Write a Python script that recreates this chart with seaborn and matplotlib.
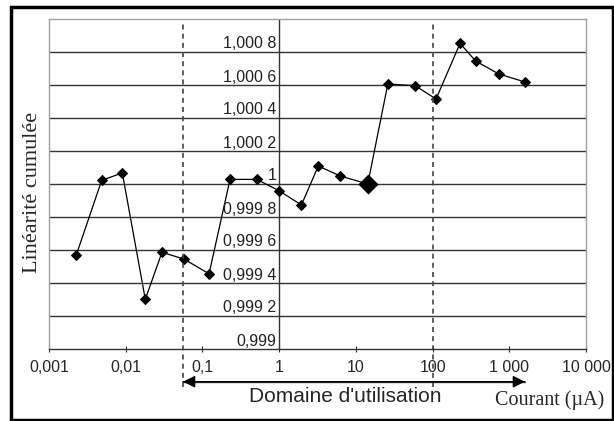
import matplotlib
matplotlib.use("Agg")
import matplotlib.pyplot as plt
import matplotlib.transforms as mtransforms
from matplotlib.patches import Rectangle
import seaborn as sns
import pandas as pd
import numpy as np

# Data
courant = [0.00227, 0.00486, 0.00903, 0.0180, 0.0297, 0.0575, 0.122, 0.229, 0.51, 0.99,
           1.95, 3.24, 6.28, 14.3, 26.1, 59.2, 111, 228, 365, 730, 1607]
linearite = [0.99957, 1.000022, 1.000067, 0.999301, 0.999586, 0.999545, 0.999456, 1.000028,
             1.000028, 0.99996, 0.999873, 1.000109, 1.000048, 1.000000, 1.000606, 1.000596,
             1.000515, 1.000852, 1.000745, 1.000667, 1.000618]
highlight_x = [14.3]
highlight_y = [1.000000]

x_ticks = [0.001, 0.01, 0.1, 1, 10, 100, 1000, 10000]
x_ticklabels = ["0,001", "0,01", "0,1", "1", "10", "100", "1 000", "10 000"]
y_ticks = [0.999, 0.9992, 0.9994, 0.9996, 0.9998, 1.0, 1.0002, 1.0004, 1.0006, 1.0008]
y_ticklabels = ["0,999", "0,999 2", "0,999 4", "0,999 6", "0,999 8", "1",
                "1,000 2", "1,000 4", "1,000 6", "1,000 8"]
domaine = [0.0559, 100]

sns.set_style("white")
plt.rcParams['font.family'] = ['Liberation Sans', 'DejaVu Sans']

fig = plt.figure(figsize=(6.14, 4.21), dpi=100)
ax = fig.add_axes([49/614, 1-349/421, (586-49)/614, (349-19)/421])

df = pd.DataFrame({"Courant": courant, "Linearite": linearite})
sns.lineplot(data=df, x="Courant", y="Linearite", ax=ax, color="black", lw=0.9,
             marker="D", markersize=5, markeredgecolor="black", estimator=None, sort=False)
sns.scatterplot(x=highlight_x, y=highlight_y, ax=ax, marker="D", s=90, color="black",
                edgecolor="black", zorder=5)

ax.set_xscale("log")
ax.set_xlim(0.001, 10000)
ax.set_ylim(0.999, 1.001)

ax.set_xticks(x_ticks)
ax.set_xticklabels(x_ticklabels, fontsize=11.5)
ax.minorticks_off()
ax.tick_params(axis="x", direction="inout", length=4, width=0.8, color="#333333", pad=6, bottom=True)
ax.set_yticks(y_ticks)
ax.set_yticklabels([])
ax.tick_params(axis="y", length=0)
ax.set_xlabel("")
ax.set_ylabel("")

for v in y_ticks[1:]:
    ax.axhline(v, color="#333333", lw=1, zorder=1)
ax.axvline(1, color="#333333", lw=1, zorder=1)

for side in ["left", "top", "right"]:
    ax.spines[side].set_color("#a0a0a0")
    ax.spines[side].set_linewidth(1)
ax.spines["bottom"].set_color("#333333")
ax.spines["bottom"].set_linewidth(1)

# y tick labels along the x=1 axis
off = mtransforms.offset_copy(ax.transData, fig=fig, x=-3, y=3.5, units="dots")
for v, lab in zip(y_ticks, y_ticklabels):
    ax.text(1, v, lab, transform=off, ha="right", va="baseline", fontsize=11.5, color="#222222")

# dashed domain limits, extending below the axis
trans = mtransforms.blended_transform_factory(ax.transData, fig.transFigure)
for xv in domaine:
    ax.plot([xv, xv], [1-387/421, 1-21/421], transform=trans, ls=(0, (3, 2.5)),
            color="#444444", lw=1.2, clip_on=False, zorder=2)

# double arrow
ya = 1-381.7/421
ax.annotate("", xy=(domaine[0], ya), xycoords=trans, xytext=(1600, ya), textcoords=trans,
            arrowprops=dict(arrowstyle="-|>", color="black", lw=1, mutation_scale=18,
                            shrinkA=0, shrinkB=0), annotation_clip=False)
ax.annotate("", xy=(1600, ya), xycoords=trans, xytext=(domaine[0], ya), textcoords=trans,
            arrowprops=dict(arrowstyle="-|>", color="black", lw=1, mutation_scale=18,
                            shrinkA=0, shrinkB=0), annotation_clip=False)
ax.plot([domaine[0], 1600], [ya, ya], transform=trans, color="#555555", lw=1, clip_on=False)

fig.text(345.5/614, 1-396/421, "Domaine d'utilisation", ha="center", va="center", fontsize=15)
fig.text(550/614, 1-400/421, "Courant (µA)", ha="center", va="center", fontsize=14.5,
         family=["Liberation Serif", "DejaVu Serif"])
fig.text(33/614, 1-192/421, "Linéarité cumulée", ha="center", va="center", fontsize=16,
         rotation=90, family=["Liberation Serif", "DejaVu Serif"])

# outer frame
fig.patches.append(Rectangle((11/614, 1-419.5/421), (613-11)/614, (419.5-6.5)/421,
                             transform=fig.transFigure, fill=False, edgecolor="black", lw=2.5))

fig.savefig("out.png", dpi=100)
